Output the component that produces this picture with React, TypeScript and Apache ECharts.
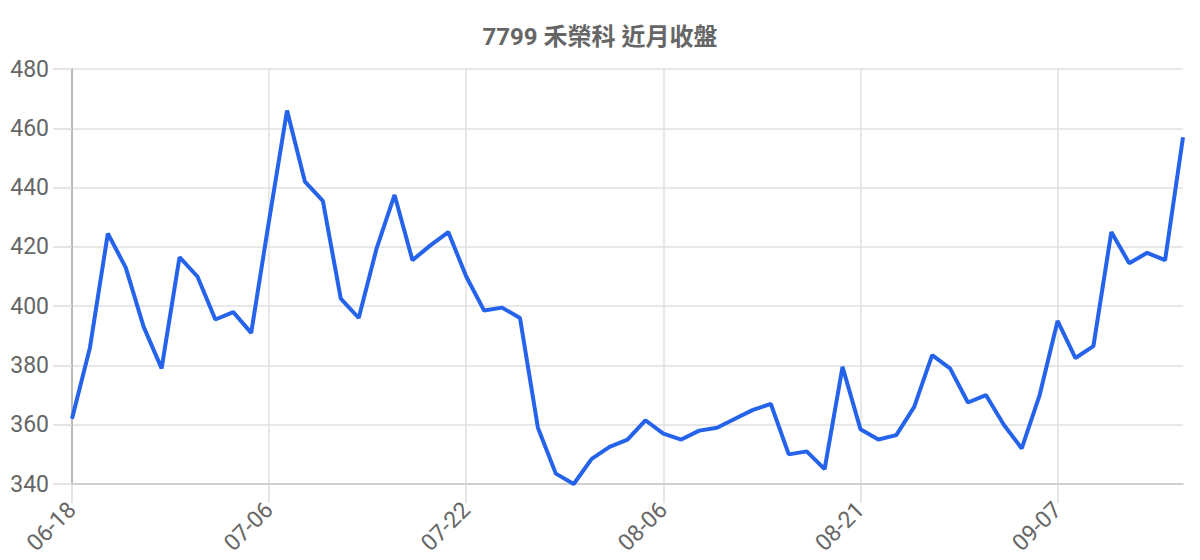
import React, { useEffect, useRef } from "react";
import * as echarts from "echarts";

const TITLE = "7799 禾榮科 近月收盤";

const dates: string[] = [
  "06-18", "06-19", "06-20", "06-23", "06-24", "06-25", "06-26", "06-27", "06-30", "07-01", "07-03",
  "07-06", "07-07", "07-08", "07-09", "07-10", "07-11", "07-14", "07-15", "07-16", "07-17", "07-18",
  "07-22", "07-23", "07-24", "07-25", "07-28", "07-29", "07-30", "07-31", "08-01", "08-04", "08-05",
  "08-06", "08-07", "08-08", "08-11", "08-12", "08-13", "08-14", "08-15", "08-18", "08-19", "08-20",
  "08-21", "08-22", "08-25", "08-26", "08-27", "08-28", "08-29", "09-01", "09-02", "09-03", "09-04",
  "09-07", "09-08", "09-09", "09-10", "09-11", "09-12", "09-15", "09-16",
];

const closes: number[] = [
  362, 386, 424.5, 413, 393, 379, 416.5, 410, 395.5, 398, 391,
  429, 466, 442, 435.5, 402.5, 396, 419.5, 437.5, 415.5, 420.5, 425,
  410, 398.5, 399.5, 396, 359, 343.5, 340, 348.5, 352.5, 355, 361.5,
  357, 355, 358, 359, 362, 365, 367, 350, 351, 345, 379.5,
  358.5, 355, 356.5, 366, 383.5, 379, 367.5, 370, 360, 352, 370,
  395, 382.5, 386.5, 425, 414.5, 418, 415.5, 457,
];

const yMin = 340;
const yMax = 480;
const yStep = 20;

const FONT = "Roboto, 'Noto Sans CJK TC', 'Noto Sans', sans-serif";

export default function App() {
  const ref = useRef<HTMLDivElement>(null);
  useEffect(() => {
    if (!ref.current) return;
    const chart = echarts.init(ref.current, undefined, { renderer: "svg" });
    chart.setOption({
      animation: false,
      backgroundColor: "#ffffff",
      title: {
        text: TITLE,
        left: "center",
        top: 20,
        textStyle: { fontFamily: FONT, fontSize: 24, fontWeight: "bold", color: "#666666" },
      },
      grid: { left: 72, right: 17, top: 69, bottom: 76, containLabel: false },
      xAxis: {
        type: "category",
        data: dates,
        boundaryGap: false,
        axisLine: { show: true, lineStyle: { color: "#c8c8c8", width: 1.5 } },
        axisTick: { show: true, interval: 10, length: 19, lineStyle: { color: "#dddddd", width: 1.5 } },
        splitLine: { show: true, interval: 10, lineStyle: { color: "#e0e0e0", width: 1.5 } },
        axisLabel: {
          interval: 10,
          rotate: 45,
          margin: 22,
          fontFamily: FONT,
          fontSize: 23,
          color: "#666666",
        },
      },
      yAxis: {
        type: "value",
        min: yMin,
        max: yMax,
        interval: yStep,
        axisLine: { show: true, lineStyle: { color: "#aaaaaa", width: 1.5 } },
        axisTick: { show: true, length: 19, lineStyle: { color: "#dddddd", width: 1.5 } },
        splitLine: { show: true, lineStyle: { color: "#e0e0e0", width: 1.5 } },
        axisLabel: { margin: 23, fontFamily: FONT, fontSize: 23, color: "#666666" },
      },
      series: [
        {
          type: "line",
          data: closes,
          showSymbol: false,
          symbol: "none",
          lineStyle: { color: "#2563eb", width: 4 },
          itemStyle: { color: "#2563eb" },
        },
      ],
    });
    return () => chart.dispose();
  }, []);
  return (
    <div
      ref={ref}
      style={{ position: "absolute", left: 0, top: 0, width: 1200, height: 560 }}
    />
  );
}
